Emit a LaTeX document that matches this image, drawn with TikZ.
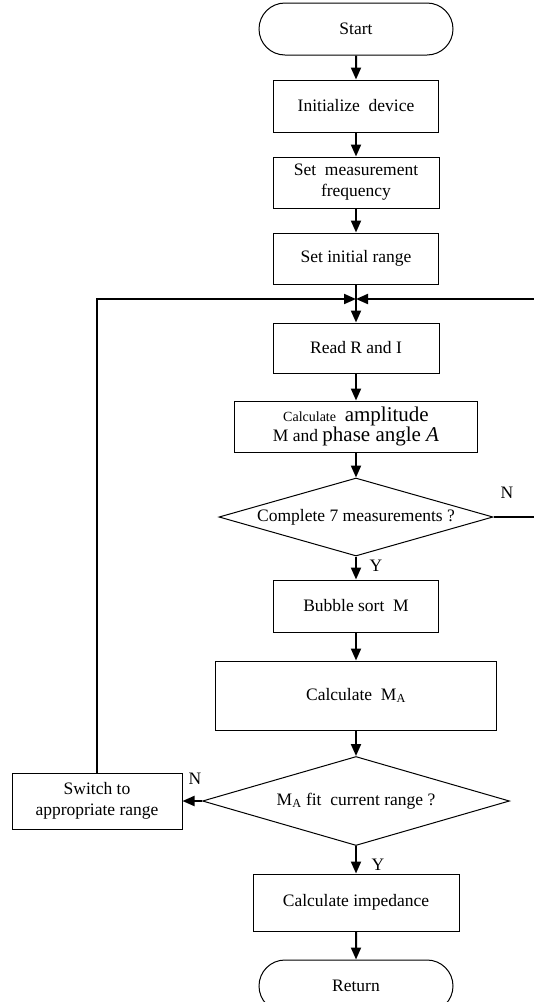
\documentclass[tikz,border=0pt]{standalone}
\usepackage{fontspec}
\setmainfont{Liberation Serif}
\usetikzlibrary{shapes.geometric,shapes.misc,arrows.meta}
\begin{document}
\begin{tikzpicture}[x=1pt,y=-1pt,font=\fontsize{17.5}{21}\selectfont,
	box/.style={draw,line width=1pt,inner sep=0pt,align=center},
	term/.style={draw,line width=1pt,rounded rectangle,inner sep=0pt,minimum width=194pt,minimum height=52pt},
	decision/.style={draw,line width=1pt,diamond,inner sep=0pt},
	flow/.style={line width=2pt,-{Triangle[length=12pt,width=10pt]}}]
	\useasboundingbox (0,0) rectangle (534,1002);
	\clip (0,0) rectangle (534,1002);
	\node[term] (start) at (356,29) {Start};
	\node[box,minimum width=165pt,minimum height=52pt] (init) at (356,106) {Initialize~~device};
	\node[box,minimum width=166pt,minimum height=51pt] (setfreq) at (356,182.5) {Set~~measurement\\frequency};
	\node[box,minimum width=165pt,minimum height=51pt] (setrange) at (356,258.5) {Set initial range};
	\coordinate (join) at (356,299);
	\node[box,minimum width=166pt,minimum height=50pt] (read) at (356,348) {Read R and I};
	\node[box,minimum width=243pt,minimum height=51pt] (calc) at (356,426.5)
		{{\fontsize{14}{16}\selectfont Calculate}~~{\fontsize{21}{21}\selectfont amplitude}\\[-1pt]
		M and {\fontsize{21}{21}\selectfont phase angle \textit{A}}};
	\node[decision,aspect=3.5,minimum width=274pt,minimum height=78pt] (meas) at (356,517) {Complete 7 measurements ?};
	\node (mn) at (507,493) {N};
	\node (my) at (376,566) {Y};
	\coordinate (rside) at (545,517);
	\node[box,minimum width=165pt,minimum height=52pt] (bubble) at (356,606) {Bubble sort~~M};
	\node[box,minimum width=281pt,minimum height=69pt] (calcma) at (356,695.5) {Calculate~~M\textsubscript{A}};
	\node[decision,aspect=3.45,minimum width=307pt,minimum height=89pt] (fit) at (356,801) {M\textsubscript{A} fit~~current range ?};
	\node[box,minimum width=170pt,minimum height=56pt] (switch) at (97,801) {Switch to\\appropriate range};
	\node (fn) at (195,779) {N};
	\node (fy) at (378,865) {Y};
	\node[box,minimum width=206pt,minimum height=57pt] (imped) at (356,902.5) {Calculate impedance};
	\node[term] (ret) at (356,986) {Return};
	% main chain
	\draw[flow] (start) -- (init);
	\draw[flow] (init) -- (setfreq);
	\draw[flow] (setfreq) -- (setrange);
	\draw[flow] (setrange) -- (read);
	\draw[flow] (read) -- (calc);
	\draw[flow] (calc) -- (meas);
	\draw[flow] (meas) -- (bubble);
	\draw[flow] (bubble) -- (calcma);
	\draw[flow] (calcma) -- (fit);
	\draw[flow] (fit) -- (imped);
	\draw[flow] (imped) -- (ret);
	% loops back
	\draw[flow] (fit) -- (switch);
	\draw[flow] (switch) |- (join);
	\draw[line width=2pt] (meas) -- (rside);
	\draw[flow] (rside) |- (join);
\end{tikzpicture}
\end{document}
